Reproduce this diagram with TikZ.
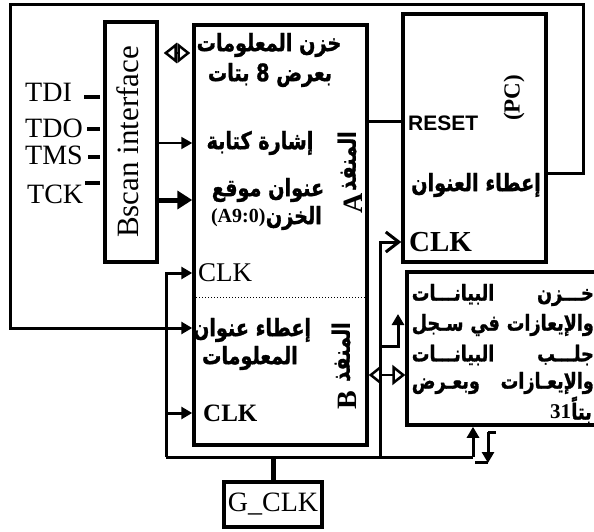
\documentclass[tikz,border=0pt]{standalone}
\usepackage{fontspec}
\usetikzlibrary{arrows.meta}
\setmainfont{Liberation Serif}
\newfontfamily\arabicfont[Script=Arabic, FakeStretch=0.8, BoldFeatures={FakeBold=1.2}]{DejaVu Sans}
\newfontfamily\sansfont{Liberation Sans}
\TeXXeTstate=1
\tikzset{
  box/.style={draw, line width=3.5pt, inner sep=0pt},
  wire/.style={line width=3pt},
  ser/.style={inner sep=0pt, font=\fontsize{28}{30}\selectfont},
  serb/.style={inner sep=0pt, font=\bfseries\fontsize{27}{30}\selectfont},
  ar/.style={inner sep=0pt, font=\arabicfont\bfseries\fontsize{24}{27}\selectfont},
  dr/.style={inner sep=0pt, anchor=east, font=\arabicfont\bfseries\fontsize{22}{25}\selectfont},
  ftip/.style={-{Triangle[length=11pt,width=12pt]}},
  dbl/.style={line width=2.5pt, {Triangle[open,length=13pt,width=20pt]}-{Triangle[open,length=13pt,width=20pt]}},
  stub/.style={line width=4.5pt}
}
\begin{document}
\begin{tikzpicture}[x=1pt,y=-1pt]
\useasboundingbox (0,0) rectangle (594,532);
% boxes
\node[box, minimum width=52pt, minimum height=240pt] (bscan) at (131,142) {};
\node[box, minimum width=173pt, minimum height=420pt] (mem) at (280.5,235) {};
\node[box, minimum width=143pt, minimum height=248pt] (pc) at (474.5,138) {};
\node[box, minimum width=213pt, minimum height=153pt] (dreg) at (513.5,348.5) {};
\node[box, minimum width=98pt, minimum height=45pt, font=\fontsize{28}{30}\selectfont] (gclk) at (273,504.5) {G\_CLK};
% jtag labels
\node[ser, anchor=west] (tdi) at (25,92) {TDI};
\node[ser, anchor=west] (tdo) at (25,128) {TDO};
\node[ser, anchor=west] (tms) at (25,155) {TMS};
\node[ser, anchor=west] (tck) at (27,194) {TCK};
\draw[stub] (84,97) -- (100,97);
\draw[stub] (87,129) -- (100,129);
\draw[stub] (88,157) -- (100,157);
\draw[stub] (85,183) -- (100,183);
\node[inner sep=0pt, rotate=90, font=\fontsize{31}{33}\selectfont] (bl) at (128,142) {Bscan interface};
% memory texts
\node[ar] (m1) at (269,45) {\beginR خزن المعلومات\endR};
\node[ar] (m2) at (270,75) {\beginR بعرض \beginL 8\endL{} بتات\endR};
\node[ar] (m3) at (260,143) {\beginR إشارة كتابة\endR};
\node[ar] (m4) at (268,190) {\beginR عنوان موقع\endR};
\node[ar, anchor=east] (m5) at (322,218) {\beginR الخزن\endR};
\node[inner sep=0pt, anchor=east, font=\bfseries\fontsize{20}{22}\selectfont] (m5b) at (m5.west) {(A9:0)};
\node[ar, rotate=90] (pa) at (347,161) {\beginR المنفذ\endR};
\node[inner sep=0pt, rotate=90, font=\bfseries\fontsize{28}{30}\selectfont] (pan) at (353,203) {A};
\node[ser, anchor=west, font=\fontsize{27}{30}\selectfont] (clka) at (198,273) {CLK};
\draw[dotted, line width=1pt] (196,297) -- (365,297);
\node[ar] (m6) at (252,330) {\beginR إعطاء عنوان\endR};
\node[ar] (m7) at (250,358) {\beginR المعلومات\endR};
\node[ar, rotate=90] (pb) at (341,352) {\beginR المنفذ\endR};
\node[inner sep=0pt, rotate=90, font=\bfseries\fontsize{28}{30}\selectfont] (pbn) at (347,400) {B};
\node[serb, anchor=west, font=\bfseries\fontsize{25}{28}\selectfont] (clkb) at (203,413) {CLK};
% pc texts
\node[inner sep=0pt, rotate=90, font=\bfseries\fontsize{23}{25}\selectfont] (pcl) at (514,98) {(PC)};
\node[inner sep=0pt, anchor=west, font=\sansfont\bfseries\fontsize{21}{23}\selectfont] (reset) at (408,123) {RESET};
\node[ar] (p1) at (476,185) {\beginR إعطاء العنوان\endR};
\node[serb, anchor=west, font=\bfseries\fontsize{29}{31}\selectfont] (clkp) at (409,242) {CLK};
% data register texts
\node[dr] (d1) at (594,295) {\makebox[182pt][s]{\beginR خـــزن البيانـــات\endR}};
\node[dr] (d2) at (594,325) {\makebox[182pt][s]{\beginR والإيعازات في سـجل\endR}};
\node[dr] (d3) at (594,355) {\makebox[182pt][s]{\beginR جلـــب البيانـــات\endR}};
\node[dr] (d4) at (594,383) {\makebox[182pt][s]{\beginR والإيعـازات وبعـرض\endR}};
\node[dr] (d5) at (592,410) {\beginR بتاً\endR};
\node[inner sep=0pt, anchor=east, font=\bfseries\fontsize{21}{24}\selectfont] (d5n) at ([yshift=-2pt]d5.west) {31};
% connectors
\draw[wire, ftip] (pc.east |- 0,173) -- (583,173) -- (583,5) -- (10,5) -- (10,328) -- (mem.west |- 0,328);
\draw[line width=2pt, ftip] (bscan.east |- 0,143) -- (mem.west |- 0,143);
\draw[line width=5pt, -{Triangle[length=15pt,width=18pt]}] ([xshift=-4pt]bscan.east |- 0,200) -- (mem.west |- 0,200);
\draw[dbl, shorten <=5pt, shorten >=2pt] (bscan.east |- 0,53) -- (mem.west |- 0,53);
\draw[wire] (mem.east |- 0,122) -- (pc.west |- 0,122);
\draw[dbl] (mem.east |- 0,375) -- (dreg.west |- 0,375);
% clock network
\draw[line width=5pt] (gclk.north) -- (gclk.north |- 0,457);
\draw[wire] (166,457) -- (473,457);
\draw[wire, ftip] (166,457) -- (166,273) -- (mem.west |- 0,273);
\draw[wire, ftip] (166,413) -- (mem.west |- 0,413);
\draw[wire, -{Straight Barb[length=13pt,width=20pt]}] (380,457) -- (380,242) -- (pc.west |- 0,242);
\draw[wire, ftip] (380,346) -- (398,346) -- (398,314);
\draw[wire, ftip] (473,457) -- (dreg.south -| 473,0);
\draw[wire] (496,432) -- (488,432);
\draw[wire, ftip] (488,432) -- (488,463);
\draw[wire] (475,462) -- (488,462);
\end{tikzpicture}
\end{document}
